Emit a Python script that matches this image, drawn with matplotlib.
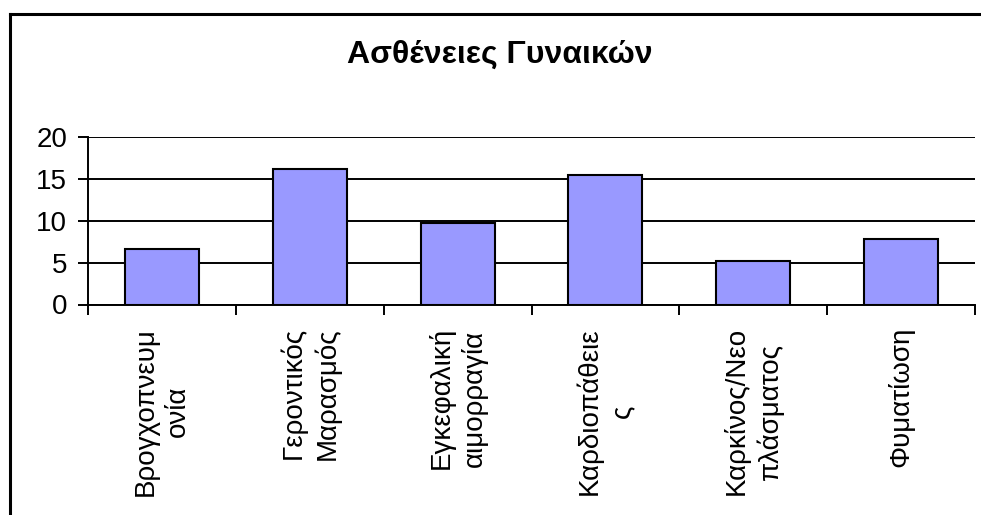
import matplotlib.pyplot as plt
from matplotlib.lines import Line2D

categories = ['Βρογχοπνευμ\nονία', 'Γεροντικός\nΜαρασμός', 'Εγκεφαλική\nαιμορραγία',
              'Καρδιοπάθειε\nς', 'Καρκίνος/Νεο\nπλάσματος', 'Φυματίωση']
values = [6.6, 16.2, 9.7, 15.5, 5.2, 7.8]
yticks = [0, 5, 10, 15, 20]

plt.rcParams['font.family'] = ['Liberation Sans', 'DejaVu Sans']

fig = plt.figure(figsize=(9.81, 5.15), dpi=100)
W, H = 981, 515
ax = fig.add_axes([88 / W, 1 - 304.5 / H, (975 - 88) / W, (304.5 - 137) / H])

x = list(range(len(categories)))
ax.bar(x, values, width=0.5, color='#9999ff', edgecolor='black', linewidth=1.5, zorder=3)

ax.set_xlim(-0.5, len(categories) - 0.5)
ax.set_ylim(0, 20)
ax.set_yticks(yticks)
ax.set_yticklabels([str(t) for t in yticks], fontsize=20)
ax.yaxis.grid(True, color='black', linewidth=1.4, zorder=0)
ax.tick_params(axis='y', length=7, width=1.4, direction='out', pad=8)

# category boundaries as ticks
ax.set_xticks([i - 0.5 for i in range(len(categories) + 1)], minor=False)
ax.set_xticklabels([])
ax.tick_params(axis='x', length=7, width=1.4, direction='out')
for i, lab in enumerate(categories):
    ax.text(i, -2.7, lab, rotation=90, ha='center', va='top', multialignment='center',
            fontsize=20, linespacing=1.3, transform=ax.transData, clip_on=False)

for s in ['top', 'right']:
    ax.spines[s].set_visible(False)
ax.spines['left'].set_linewidth(1.4)
ax.spines['bottom'].set_linewidth(1.4)

fig.text(500 / W, 1 - 55 / H, 'Ασθένειες Γυναικών', ha='center', va='center',
         fontsize=23, fontweight='bold')

# outer chart frame (cut off at right and bottom)
fig.add_artist(Line2D([10 / W, 10 / W], [0, 1 - 14 / H], color='black', linewidth=2.2,
                      transform=fig.transFigure))
fig.add_artist(Line2D([10 / W, 980 / W], [1 - 14 / H, 1 - 14 / H], color='black', linewidth=2.2,
                      transform=fig.transFigure))

fig.savefig('out.png', dpi=100)
